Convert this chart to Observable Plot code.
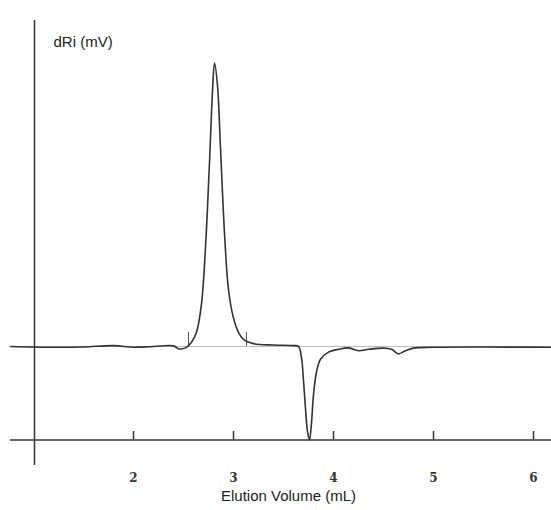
<!DOCTYPE html>
<html>
<head>
<meta charset="utf-8">
<script src="https://cdn.jsdelivr.net/npm/d3@7"></script>
<script src="https://cdn.jsdelivr.net/npm/@observablehq/plot@0.6"></script>
<style>body{margin:0;background:#fff;}</style>
</head>
<body>
<div id="chart"></div>
<script>
// trace: elution volume (mL) vs signal (peak = 100)
const vol = [0.77,1.2,1.5,1.8,2.0,2.2,2.4,2.45,2.52,2.58,2.63,2.68,2.72,2.76,2.79,2.81,2.84,2.87,2.91,2.95,3.0,3.05,3.1,3.2,3.4,3.6,3.65,3.68,3.7,3.72,3.74,3.76,3.78,3.8,3.83,3.87,3.95,4.05,4.15,4.25,4.35,4.5,4.58,4.65,4.72,4.8,5.0,5.5,6.18];
const sig = [0,-0.3,-0.2,0.3,-0.3,0,0.2,-0.8,-0.5,1.5,5,15,35,65,90,100,92,70,40,20,10,5,2.5,1,0.5,0.3,0,-4,-12,-22,-30,-33,-27,-17,-9,-4.5,-2,-1,-0.5,-1.5,-1,-0.6,-1,-2.6,-1.5,-0.6,-0.3,-0.2,-0.3];
const markers = [2.55, 3.13];
const ticks = [2, 3, 4, 5, 6];

const trace = vol.map((v, i) => ({v, s: sig[i]}));

const chart = Plot.plot({
  width: 551,
  height: 510,
  marginLeft: 10,
  marginRight: 0,
  marginTop: 20,
  marginBottom: 45,
  x: {domain: [0.77, 6.18]},
  y: {domain: [-42, 115], axis: null},
  marks: [
    Plot.ruleY([0], {x1: 0.77, x2: 6.18, stroke: "#bbb", strokeWidth: 1}),
    Plot.ruleY([-33], {x1: 0.77, x2: 6.18, stroke: "#333", strokeWidth: 1.5}),
    Plot.ruleX([1.01], {y1: -42, y2: 115, stroke: "#333", strokeWidth: 1.5}),
    Plot.ruleX(ticks, {y1: -33, y2: -30, stroke: "#333", strokeWidth: 1.5}),
    Plot.ruleX(markers, {y1: 0, y2: 5, stroke: "#555"}),
    Plot.line(trace, {x: "v", y: "s", stroke: "#333", strokeWidth: 1.6, curve: "catmull-rom"}),
    Plot.axisX(ticks, {tickSize: 0, tickPadding: 8, fontFamily: "DejaVu Serif", fontWeight: "bold", fontSize: 12, fill: "#333", label: null}),
    Plot.text(["Elution Volume (mL)"], {x: 3.55, y: -53, fontSize: 15, fill: "#222", fontFamily: "Liberation Sans"}),
    Plot.text(["dRi (mV)"], {x: 1.2, y: 107.5, textAnchor: "start", fontSize: 15, fill: "#222", fontFamily: "Liberation Sans"})
  ],
  style: {fontFamily: "Liberation Sans", fontSize: "15px", color: "#222"}
});
d3.select("#chart").append(() => chart);
</script>
</body>
</html>
